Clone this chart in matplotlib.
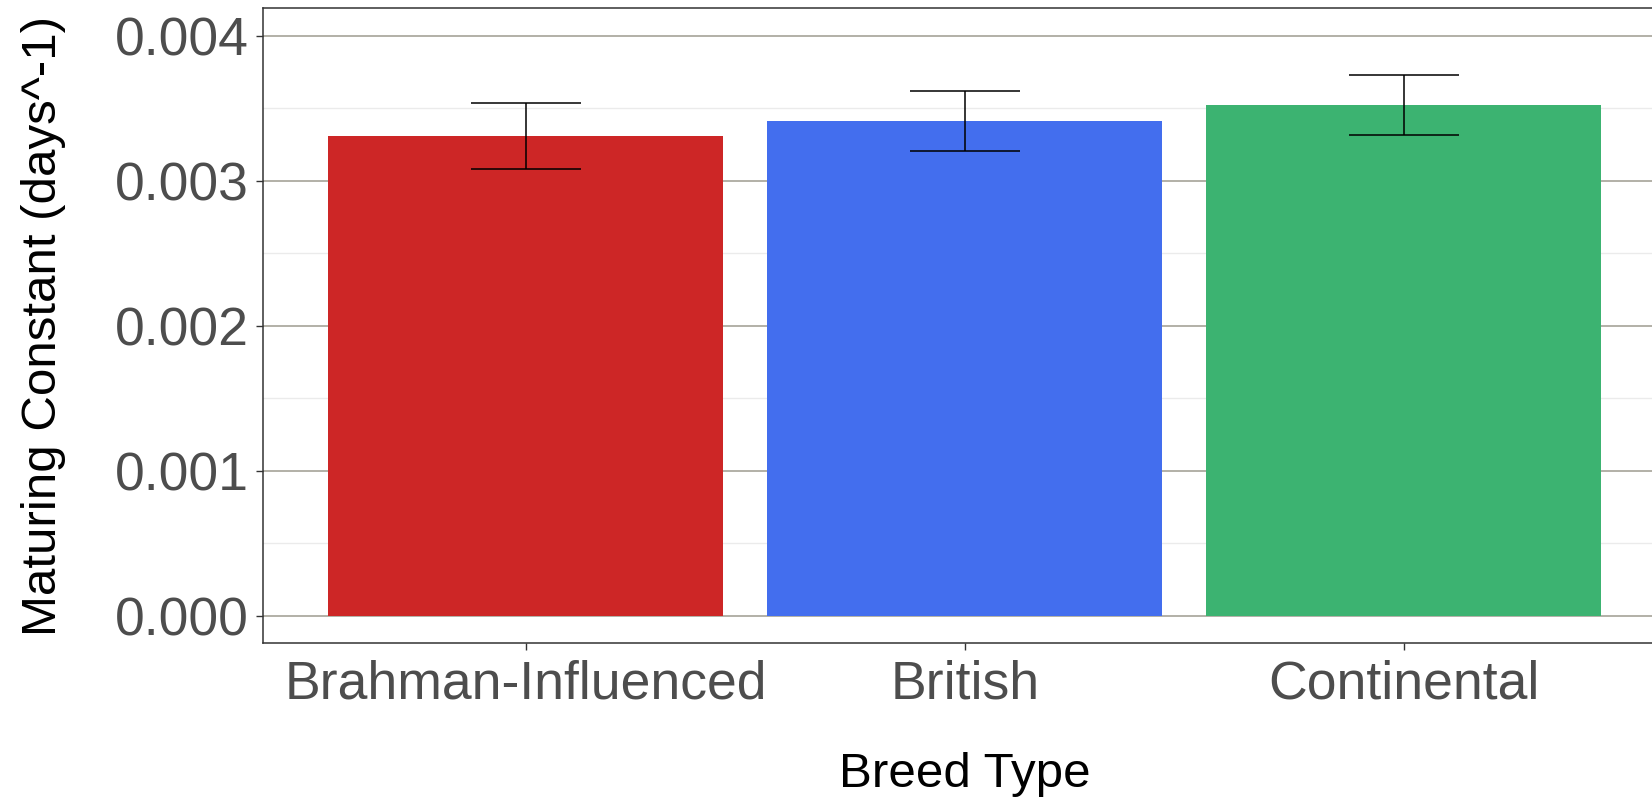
import matplotlib
matplotlib.use("Agg")
import matplotlib.pyplot as plt
import numpy as np

# Breed-type means and standard errors of the maturing constant
breeds = ["Brahman-Influenced", "British", "Continental"]
means = [0.003307, 0.003410, 0.003522]
errors = [0.000225, 0.000208, 0.000209]
colors = ["#CD2626", "#436EEE", "#3CB371"]

yticks = [0.000, 0.001, 0.002, 0.003, 0.004]
minor_yticks = [0.0005, 0.0015, 0.0025, 0.0035]

plt.rcParams["font.family"] = ["Liberation Sans", "DejaVu Sans"]

fig = plt.figure(figsize=(16.52, 8.0), dpi=100)
ax = fig.add_axes([0.159, 0.196, 0.8501, 0.794])

x = np.arange(1, len(breeds) + 1)

# gridlines behind bars
ax.set_axisbelow(True)
for yv in minor_yticks:
    ax.axhline(yv, color="#EBEBEB", lw=1.0, zorder=0)
for yv in yticks:
    ax.axhline(yv, color="#9E9B90", lw=1.1, zorder=0)

ax.bar(x, means, width=0.9, color=colors, zorder=2)

# error bars: vertical stem plus caps of width 0.25
lo = [m - e for m, e in zip(means, errors)]
hi = [m + e for m, e in zip(means, errors)]
ax.vlines(x, lo, hi, color="black", lw=1.1, zorder=3)
ax.hlines(lo, x - 0.125, x + 0.125, color="black", lw=1.1, zorder=3)
ax.hlines(hi, x - 0.125, x + 0.125, color="black", lw=1.1, zorder=3)

ax.set_xlim(0.4, 3.6)
ax.set_ylim(-0.00019, 0.00419)

ax.set_xticks(x)
ax.set_xticklabels(breeds)
ax.set_yticks(yticks)
ax.set_yticklabels([f"{v:.3f}" for v in yticks])

ax.tick_params(axis="both", labelsize=38.5, labelcolor="#4D4D4D",
               color="#333333", length=5, width=1.0)
ax.tick_params(axis="x", pad=7)
ax.tick_params(axis="y", pad=5)

for s in ax.spines.values():
    s.set_color("#333333")
    s.set_linewidth(1.1)

ax.set_xlabel("Breed Type", fontsize=35.5, color="black", labelpad=30)
ax.set_ylabel("Maturing Constant (days^-1)", fontsize=35.5, color="black", labelpad=35)

fig.savefig("out.png", dpi=100)
